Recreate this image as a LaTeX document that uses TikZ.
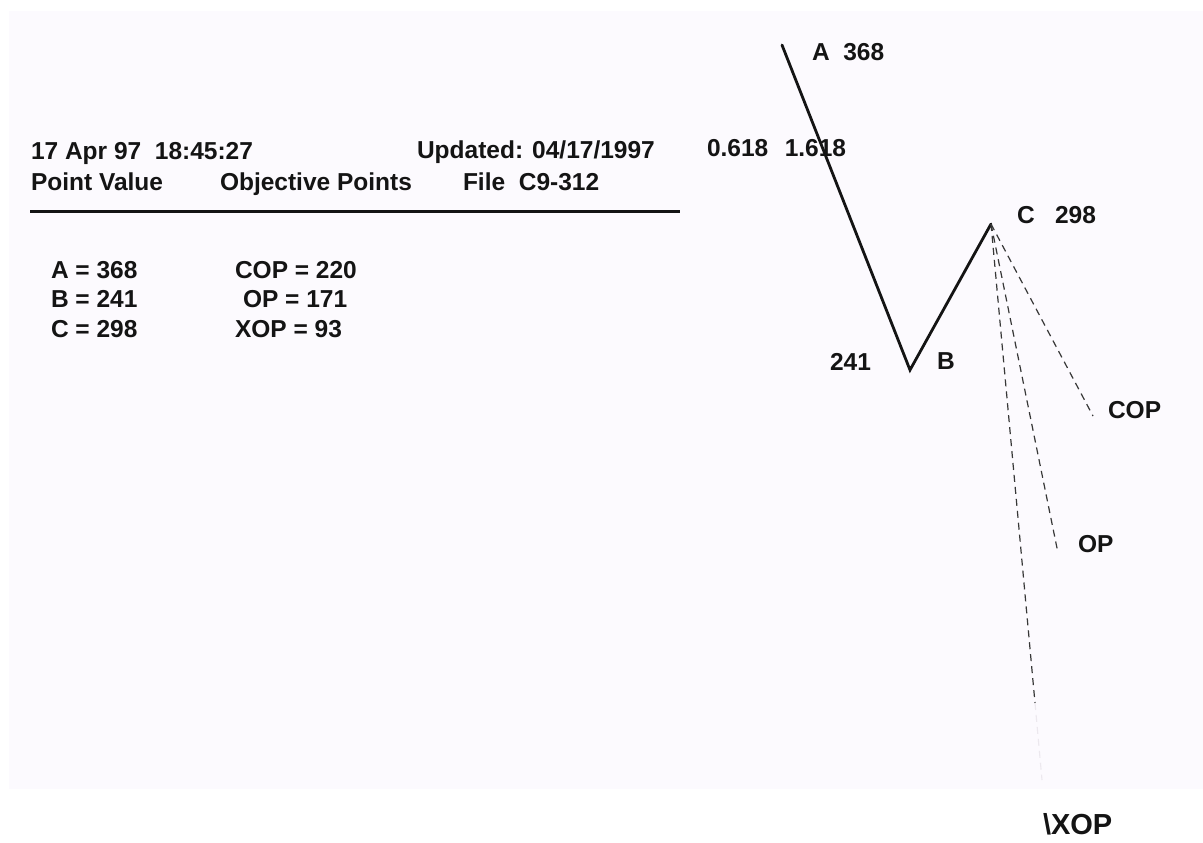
\documentclass[tikz,border=0pt]{standalone}
\usepackage{fontspec}
\setmainfont{Liberation Sans}
\definecolor{paper}{RGB}{252,250,254}
\definecolor{ink}{RGB}{20,20,20}
\definecolor{ghost}{RGB}{236,232,238}
\begin{document}
\begin{tikzpicture}[x=1pt,y=-1pt,
  lbl/.style={anchor=base west,inner sep=0pt,outer sep=0pt,text=ink,
    font=\fontsize{24.5}{29}\selectfont\bfseries},
  biglbl/.style={lbl,font=\fontsize{29}{34}\selectfont\bfseries},
  wave/.style={draw=ink,line width=2.8pt,line join=miter,line cap=round},
  proj/.style={draw=ink!85,line width=1.2pt,dash pattern=on 7pt off 5pt},
  faint/.style={draw=ghost,line width=1.1pt,dash pattern=on 7pt off 5pt},
  rule/.style={draw=ink,line width=3pt}]
\useasboundingbox (0,0) rectangle (1203,843);
\fill[white] (0,0) rectangle (1203,843);
\fill[paper] (9,11) rectangle (1203,789);

% header
\node[lbl] (date) at (31,159) {17 Apr 97\ \ 18:45:27};
\node[lbl] (upd) at (417,158) {Updated: 04/17/1997};
\node[lbl] (ratio) at (707,157) {0.618\hspace{16.5pt}1.618};
\node[lbl] (pv) at (31,190) {Point Value};
\node[lbl] (objp) at (220,190) {Objective Points};
\node[lbl] (file) at (463,190) {File\ \ C9-312};
\coordinate (rl) at (30,211);
\coordinate (rr) at (680,211);
\draw[rule] (rl) -- (rr);

% table
\node[lbl] (ta) at (51,278) {A = 368};
\node[lbl] (tb) at (51,307) {B = 241};
\node[lbl] (tc) at (51,337) {C = 298};
\node[lbl] (tcop) at (235,278) {COP = 220};
\node[lbl] (top) at (243,307) {OP = 171};
\node[lbl] (txop) at (235,337) {XOP = 93};

% chart points
\coordinate (A) at (782,45);
\coordinate (B) at (910,370);
\coordinate (C) at (991,224);
\coordinate (cop) at (1093,416);
\coordinate (op) at (1058,553);
\coordinate (xop) at (1035,703);
\coordinate (xopf) at (1042,780);

\node[lbl] (la) at (812,61) {A\ \ 368};
\node[lbl] (lc) at (1017,223) {C\ \ \ 298};
\node[lbl] (l241) at (830,370) {241};
\node[lbl] (lb) at (937,369) {B};
\node[lbl] (lcop) at (1108,418) {COP};
\node[lbl] (lop) at (1078,552) {OP};
\node[biglbl] (lxop) at (1043,834) {\textbackslash XOP};

\draw[wave] (A) -- (B) -- (C);
\draw[proj] (C) -- (cop);
\draw[proj] (C) -- (op);
\draw[proj] (C) -- (xop);
\draw[faint] (xop) -- (xopf);
\end{tikzpicture}
\end{document}
